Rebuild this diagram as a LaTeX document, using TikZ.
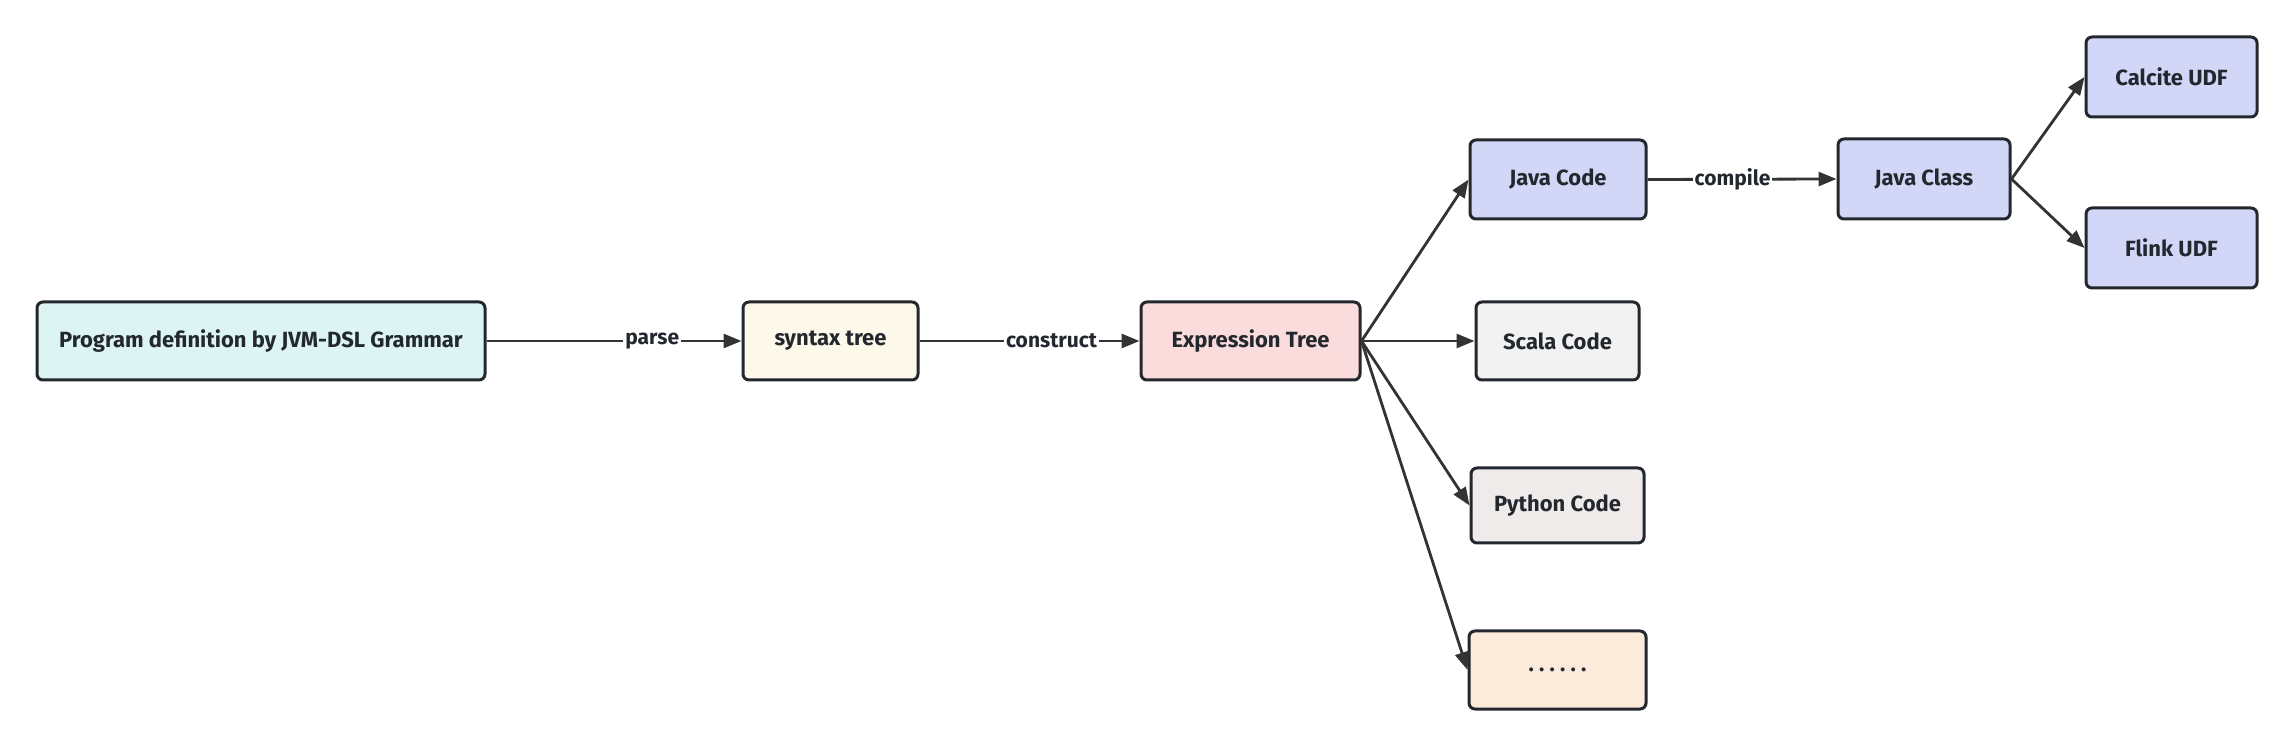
\documentclass[tikz,border=0pt]{standalone}
\usepackage{fontspec}
\setmainfont{Fira Sans}
\usetikzlibrary{arrows.meta}
\definecolor{edge}{HTML}{333333}
\definecolor{bord}{HTML}{23272E}
\definecolor{cProg}{HTML}{DCF5F3}
\definecolor{cSyn}{HTML}{FDF9EA}
\definecolor{cExp}{HTML}{FBDCDC}
\definecolor{cJava}{HTML}{D3D7F7}
\definecolor{cScala}{HTML}{F2F2F2}
\definecolor{cPy}{HTML}{EFEBEB}
\definecolor{cDots}{HTML}{FCEADB}
\newcommand{\sixdots}{.\hspace{2.6pt}.\hspace{2.6pt}.\hspace{2.6pt}.\hspace{2.6pt}.\hspace{2.6pt}.}
\tikzset{
  box/.style={draw=bord, line width=1.5pt, rounded corners=3pt, inner sep=0pt,
    font=\fontsize{11}{13}\selectfont\bfseries, text=bord, anchor=center},
  conn/.style={draw=edge, line width=1.4pt, -{Triangle[length=9pt,width=7pt]}},
  lab/.style={fill=white, inner sep=1pt, font=\fontsize{10.5}{12}\selectfont\bfseries, text=bord}
}
\begin{document}
\begin{tikzpicture}[x=0.5pt,y=-0.5pt]
\useasboundingbox (0,0) rectangle (2295,747);
\node[box, fill=cProg, minimum width=224pt, minimum height=39pt] (prog) at (261,341) {Program definition by JVM-DSL Grammar};
\node[box, fill=cSyn, minimum width=87.5pt, minimum height=39pt] (syn) at (830.5,341) {syntax tree};
\node[box, fill=cExp, minimum width=109.5pt, minimum height=39pt] (exp) at (1250.5,341) {Expression Tree};
\node[box, fill=cJava, minimum width=88pt, minimum height=39.5pt] (java) at (1558,179.5) {Java Code};
\node[box, fill=cScala, minimum width=81.5pt, minimum height=39pt] (scala) at (1557.5,341) {Scala Code};
\node[box, fill=cPy, minimum width=86.5pt, minimum height=37.5pt] (py) at (1557.5,505.5) {Python Code};
\node[box, fill=cDots, minimum width=88.5pt, minimum height=39pt] (dots) at (1557.5,670) {\sixdots};
\node[box, fill=cJava, minimum width=86pt, minimum height=40pt] (jcl) at (1924,179) {Java Class};
\node[box, fill=cJava, minimum width=85.5pt, minimum height=40pt] (cal) at (2171.5,77) {Calcite UDF};
\node[box, fill=cJava, minimum width=85.5pt, minimum height=40pt] (flink) at (2171.5,248) {Flink UDF};

\draw[conn] (prog.east) -- node[lab, pos=0.65] {parse} (syn.west);
\draw[conn] (syn.east) -- node[lab, pos=0.6] {construct} (exp.west);
\draw[conn] (java.east) -- node[lab, pos=0.45] {compile} (jcl.west);
\draw[conn] (exp.east) -- (java.west);
\draw[conn] (exp.east) -- (scala.west);
\draw[conn] (exp.east) -- (py.west);
\draw[conn] (exp.east) -- (dots.west);
\draw[conn] (jcl.east) -- (cal.west);
\draw[conn] (jcl.east) -- (flink.west);
\end{tikzpicture}
\end{document}
